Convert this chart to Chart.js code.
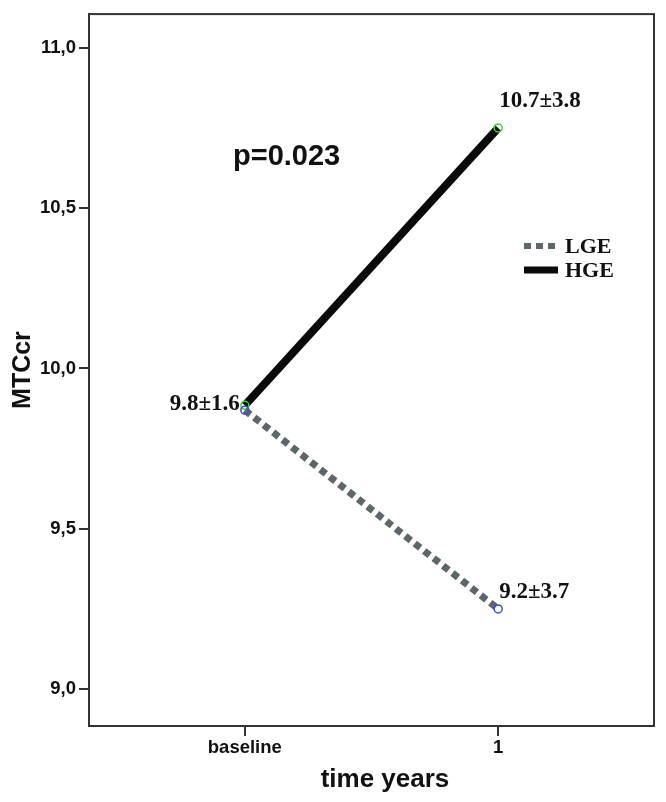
<!DOCTYPE html>
<html>
<head>
  <meta charset="utf-8">
  <title>MTCcr over time</title>
  <script src="https://cdn.jsdelivr.net/npm/chart.js"></script>
  <style>
    html, body { margin: 0; padding: 0; background: #fff; }
    #wrap { width: 666px; height: 802px; }
  </style>
</head>
<body>
  <div id="wrap"><canvas id="myChart"></canvas></div>
  <script>
    // Chart data
    const timePoints = [0, 1];
    const timeLabels = ['baseline', '1'];
    const lgeValues = [9.87, 9.25];
    const hgeValues = [9.885, 10.75];
    const seriesNames = ['LGE', 'HGE'];
    const yTicks = [9.0, 9.5, 10.0, 10.5, 11.0];
    const pointNotes = ['9.8±1.6', '10.7±3.8', '9.2±3.7'];
    const pValueText = 'p=0.023';
    const xTitle = 'time years';

    const toPoints = vals => vals.map((v, i) => ({ x: timePoints[i], y: v }));

    // Frame, value notes, p-value, x title and legend drawn on top of the chart area
    const notesPlugin = {
      id: 'notes',
      afterDraw(chart) {
        const { ctx, chartArea: a } = chart;
        const xs = chart.scales.x, ys = chart.scales.y;
        ctx.save();
        ctx.strokeStyle = '#333';
        ctx.lineWidth = 2;
        ctx.strokeRect(a.left, a.top, a.right - a.left, a.bottom - a.top);

        ctx.fillStyle = '#111';
        ctx.font = 'bold 23px "Liberation Serif", "Times New Roman", serif';
        ctx.textBaseline = 'middle';
        // baseline note, left of the first point
        ctx.textAlign = 'right';
        ctx.fillText(pointNotes[0], xs.getPixelForValue(timePoints[0]) - 5, ys.getPixelForValue(hgeValues[0]) - 1);
        ctx.textAlign = 'left';
        ctx.fillText(pointNotes[1], xs.getPixelForValue(timePoints[1]) + 1, ys.getPixelForValue(hgeValues[1]) - 27);
        ctx.fillText(pointNotes[2], xs.getPixelForValue(timePoints[1]) + 1, ys.getPixelForValue(lgeValues[1]) - 17);

        ctx.font = 'bold 29px "Liberation Sans", Arial, sans-serif';
        ctx.fillText(pValueText, 233, 157);

        ctx.textAlign = 'center';
        ctx.font = 'bold 26px "Liberation Sans", Arial, sans-serif';
        ctx.fillText(xTitle, 385, 780);

        // legend
        ctx.textAlign = 'left';
        const lx = 524, lw = 34;
        chart.data.datasets.forEach((ds, i) => {
          const y = 246 + i * 24;
          ctx.beginPath();
          ctx.strokeStyle = ds.borderColor;
          ctx.lineWidth = i === 0 ? 6 : 7;
          ctx.setLineDash(ds.borderDash || []);
          ctx.moveTo(lx, y);
          ctx.lineTo(lx + lw, y);
          ctx.stroke();
          ctx.setLineDash([]);
          ctx.fillStyle = '#111';
          ctx.font = 'bold 22px "Liberation Serif", "Times New Roman", serif';
          ctx.fillText(ds.label, 565, y + 1);
        });
        ctx.restore();
      }
    };

    const ctx = document.getElementById('myChart').getContext('2d');
    const myChart = new Chart(ctx, {
      type: 'line',
      data: {
        datasets: [{
          label: seriesNames[0],
          data: toPoints(lgeValues),
          borderColor: '#5d6668',
          borderWidth: 7,
          borderDash: [7, 5],
          borderCapStyle: 'butt',
          pointRadius: 4,
          pointBorderWidth: 1.5,
          pointBorderColor: '#3a4fd0',
          pointBackgroundColor: 'rgba(0,0,0,0)',
          tension: 0
        }, {
          label: seriesNames[1],
          data: toPoints(hgeValues),
          borderColor: '#0a0a0a',
          borderWidth: 8,
          borderCapStyle: 'butt',
          pointRadius: 4,
          pointBorderWidth: 1.5,
          pointBorderColor: '#3fd03f',
          pointBackgroundColor: 'rgba(0,0,0,0)',
          tension: 0
        }]
      },
      options: {
        responsive: true,
        maintainAspectRatio: false,
        animation: false,
        layout: { padding: { top: 10, right: 12, left: 0, bottom: 0 } },
        plugins: { legend: { display: false }, tooltip: { enabled: false } },
        scales: {
          x: {
            type: 'linear',
            min: -0.615,
            max: 1.615,
            afterBuildTicks: scale => { scale.ticks = timePoints.map(v => ({ value: v })); },
            afterFit: scale => { scale.height = 76; },
            grid: { drawOnChartArea: false, drawTicks: true, tickLength: 10, color: '#333', lineWidth: 2 },
            border: { display: true, color: '#333', width: 2 },
            ticks: {
              color: '#111',
              padding: 1,
              font: { family: '"Liberation Sans", Arial, sans-serif', size: 18.5, weight: 'bold' },
              callback: v => timeLabels[timePoints.indexOf(v)]
            }
          },
          y: {
            min: 8.885,
            max: 11.105,
            afterBuildTicks: scale => { scale.ticks = yTicks.map(v => ({ value: v })); },
            afterFit: scale => { scale.width = 89; },
            grid: { drawOnChartArea: false, drawTicks: true, tickLength: 10, color: '#333', lineWidth: 2 },
            border: { display: true, color: '#333', width: 2 },
            ticks: {
              color: '#111',
              padding: 3,
              font: { family: '"Liberation Sans", Arial, sans-serif', size: 18.5, weight: 'bold' },
              callback: v => v.toFixed(1).replace('.', ',')
            },
            title: {
              display: true,
              text: 'MTCcr',
              color: '#111',
              padding: { top: 8, bottom: 0 },
              font: { family: '"Liberation Sans", Arial, sans-serif', size: 25, weight: 'bold' }
            }
          }
        }
      },
      plugins: [notesPlugin]
    });
  </script>
</body>
</html>
